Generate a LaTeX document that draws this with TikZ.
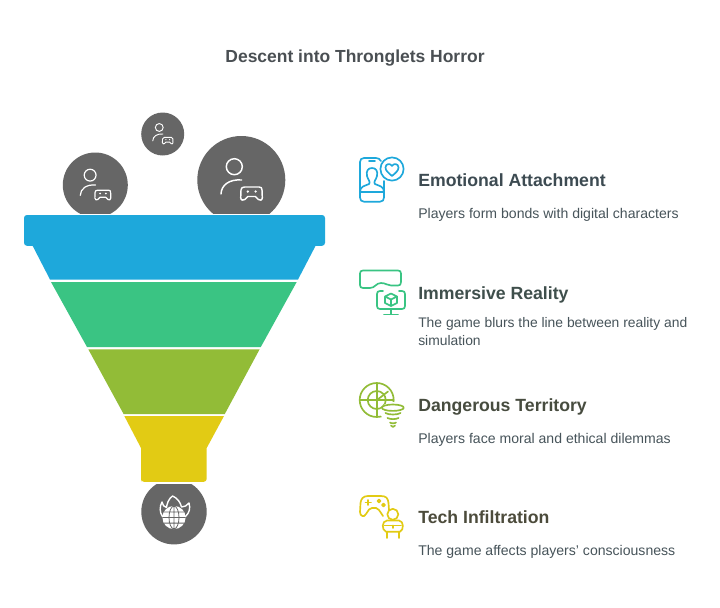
\documentclass[tikz,border=0pt]{standalone}
\usepackage{fontspec}
\setmainfont{Liberation Sans}
\usetikzlibrary{calc}
\definecolor{cblue}{HTML}{1EA8DB}
\definecolor{cgreen}{HTML}{3AC483}
\definecolor{colive}{HTML}{92BC37}
\definecolor{cyellow}{HTML}{E2CB14}
\definecolor{cdisc}{HTML}{666666}
\definecolor{ctitle}{HTML}{4A4F53}
\definecolor{cbody}{HTML}{47545A}
\definecolor{hblue}{HTML}{3D4B52}
\definecolor{hgreen}{HTML}{3F4F4C}
\definecolor{holive}{HTML}{474C3F}
\definecolor{hyellow}{HTML}{4C4B3B}
\tikzset{
  x=0.75pt,y=-0.75pt,
  titletext/.style={font=\fontsize{13.1pt}{16pt}\selectfont\bfseries,text=ctitle,inner sep=0pt},
  headtext/.style={font=\fontsize{13.25pt}{16pt}\selectfont\bfseries,anchor=base west,inner sep=0pt},
  bodytext/.style={font=\fontsize{10.55pt}{13pt}\selectfont,text=cbody,anchor=base west,inner sep=0pt,align=left},
  disc/.style={fill=cdisc},
  glyph/.style={draw=white,line width=0.75pt,line cap=round,line join=round,fill=none},
  ico/.style={line width=1.25pt,line cap=round,line join=round,fill=none},
}
\newcommand{\gamer}[4]{% x y scale lw
  \begin{scope}[shift={(#1,#2)},x=#3*0.75pt,y=-#3*0.75pt]
    \draw[glyph,line width=#4] (-7,-13.3) circle [radius=8];
    \draw[glyph,line width=#4] (-20.3,14) .. controls (-20,5) and (-12,-1) .. (0.4,0);
    \draw[glyph,line width=#4] (3.2,7) -- (17.8,7) .. controls (20,7) and (20.6,8) .. (20.7,10) -- (21,17.5) .. controls (21,20.5) and (18.5,20.8) .. (17,19.5) -- (14,16.5) -- (6.5,16.5) -- (3.5,19.5) .. controls (2,20.8) and (-0.6,20.5) .. (-0.6,17.5) -- (-0.3,10) .. controls (-0.2,8) and (1,7) .. (3.2,7) -- cycle;
    \fill[white] (6.5,11.5) circle [radius=1.3] (14.3,11.5) circle [radius=1.3];
  \end{scope}}
\begin{document}
\begin{tikzpicture}
\useasboundingbox (0,0) rectangle (720,607);
\fill[white] (0,0) rectangle (720,607);
\node[titletext] (title) at (355,58) {Descent into Thronglets Horror};

% discs
\fill[disc] (162.7,134) circle [radius=21.5];
\begin{scope}
  \clip (0,0) rectangle (720,213);
  \fill[disc] (95.3,185) circle [radius=32.5];
  \fill[disc] (241.3,180) circle [radius=44];
\end{scope}
\begin{scope}
  \clip (0,484) rectangle (720,607);
  \fill[disc] (174,511.7) circle [radius=32.7];
\end{scope}
\gamer{162.7}{134}{0.49}{0.7pt}
\gamer{95.3}{185}{0.74}{0.9pt}
\gamer{241.3}{180}{1}{1.1pt}

% funnel
\fill[cblue,rounded corners=2.2pt] (24,215) -- (325,215) -- (325,245.8) -- (24,245.8) -- cycle;
\fill[cblue] (31.7,244) -- (316.5,244) -- (298,279.5) -- (50,279.5) -- cycle;
\fill[cgreen] (51,282) -- (296.7,282) -- (260.8,347) -- (87,347) -- cycle;
\fill[colive] (88.3,349.3) -- (259.6,349.3) -- (224.8,414) -- (123.6,414) -- cycle;
\fill[cyellow] (124.3,416) -- (224,416) -- (206.7,448) -- (206.7,479) [rounded corners=2.2pt] -- (206.7,481.8) -- (141,481.8) -- (141,479) [sharp corners] -- (141,448) -- cycle;

% globe flame
\begin{scope}[shift={(174,517.5)}]
  \draw[glyph,line width=1.05pt] (-11.5,-1) .. controls (-14.5,-5) and (-14.5,-11) .. (-12,-15.5) .. controls (-11.5,-12.5) and (-10,-10.5) .. (-7.5,-10) .. controls (-7,-14) and (-5.5,-18.5) .. (-1.5,-21.5) .. controls (3.5,-19.5) and (6.5,-15) .. (7.5,-10.5) .. controls (10.5,-10.5) and (13,-12) .. (15,-14.5) .. controls (16.5,-9) and (15.5,-5) .. (11.5,-1);
  \fill[white] (0,0) circle [radius=11.6];
  \draw[cdisc,line width=0.6pt] (0,0) ellipse [x radius=5,y radius=11.4] (-11.6,0) -- (11.6,0) (0,-11.4) -- (0,11.4) (-10,-5.6) -- (10,-5.6) (-10,5.6) -- (10,5.6);
\end{scope}

% Emotional icon
\begin{scope}[cblue]
  \draw[ico] (381,161) .. controls (380,159) and (378,158) .. (376,158) -- (364,158) .. controls (361.5,158) and (360,159.5) .. (360,162) -- (360,197.5) .. controls (360,200) and (361.5,201.7) .. (364,201.7) -- (380,201.7) .. controls (382.5,201.7) and (384,200) .. (384,197.5) -- (384,181);
  \draw[ico] (369,160.7) -- (375,160.7);
  \draw[ico] (360,192) -- (384,192);
  \draw[ico] (360,192) .. controls (360,186) and (365,186) .. (369,184) .. controls (371,182) and (368,180) .. (367,176) .. controls (366,171) and (368,168) .. (372,168) .. controls (376,168) and (378,171) .. (377,176) .. controls (376,180) and (373,182) .. (375,184) .. controls (379,186) and (384,186) .. (384,192);
  \draw[ico] (392,169) circle [radius=11.6];
  \draw[ico] (392,176) .. controls (388,172.5) and (385.5,170.5) .. (385.5,167.5) .. controls (385.5,163.5) and (390.5,163) .. (392,166) .. controls (393.5,163) and (398.5,163.5) .. (398.5,167.5) .. controls (398.5,170.5) and (396,172.5) .. (392,176) -- cycle;
\end{scope}
% Immersive icon
\begin{scope}[cgreen]
  \draw[ico] (363,270.5) -- (398,270.5) .. controls (400,270.5) and (401,271.5) .. (401,273.5) -- (401,282) .. controls (401,284.5) and (400,285.5) .. (398,285.5) -- (391,285.5) .. controls (387,285.5) and (386,283) .. (381,283) .. controls (376,283) and (375,288) .. (370,288) -- (363,288) .. controls (361,288) and (360,287) .. (360,285) -- (360,273.5) .. controls (360,271.5) and (361,270.5) .. (363,270.5) -- cycle;
  \draw[ico] (383,291) -- (380,291) .. controls (378,291) and (377,292) .. (377,294) -- (377,306) .. controls (377,308) and (378,309) .. (380,309) -- (402,309) .. controls (404,309) and (405,308) .. (405,306) -- (405,294) .. controls (405,292) and (404,291) .. (402,291) -- (399,291);
  \draw[ico] (391,309) -- (391,314) (384,314.5) -- (398,314.5);
  \draw[ico] (391,293.5) -- (397,296.5) -- (397,303) -- (391,306) -- (385,303) -- (385,296.5) -- cycle (385,296.5) -- (391,299.5) -- (397,296.5) (391,299.5) -- (391,306);
\end{scope}
% Dangerous icon
\begin{scope}[colive]
  \draw[ico] (376.7,400) circle [radius=17];
  \draw[ico] (376.7,400) circle [radius=9];
  \draw[ico] (360,400) -- (393,400) (376.7,383) -- (376.7,417);
  \draw[ico] (377,400) -- (388,391.5);
  \fill[white] (393,412) ellipse [x radius=13,y radius=10];
  \draw[ico] (392.8,407.7) ellipse [x radius=11,y radius=3.2];
  \draw[ico] (385.5,413) .. controls (388,415) and (398,415) .. (400.5,413);
  \draw[ico] (387.5,418) .. controls (390,419.5) and (396,419.5) .. (398.5,418);
  \draw[ico] (390,422.5) .. controls (391,423.5) and (395,423.5) .. (396,422.5);
  \draw[ico] (391,425.5) -- (393,427) -- (395,425.5);
\end{scope}
% Tech icon
\begin{scope}[cyellow]
  \draw[ico] (389,510) -- (388.5,503) .. controls (388,498) and (386,496) .. (381,496) -- (368,496) .. controls (363,496) and (361,499) .. (360.5,503) -- (360,512) .. controls (360,516) and (364,518) .. (366,514) -- (369,509.5) .. controls (370,508) and (371,508) .. (372,508) -- (376,508) .. controls (378,508) and (379,510) .. (383,516);
  \draw[ico] (365.5,502.5) -- (371,502.5) (368.2,500) -- (368.2,505);
  \draw[ico] (379,501) circle [radius=1.5] (383.5,505) circle [radius=1.5];
  \draw[ico] (392.8,514.3) circle [radius=5.5];
  \draw[ico] (386,531.7) .. controls (381.5,530) and (381.5,521) .. (387,520.5) -- (399,520.5) .. controls (404,521) and (404,530) .. (400,531.7) -- cycle;
  \draw[ico] (384.5,525.5) -- (401,525.5) (392.8,525.5) -- (392.8,528);
  \draw[ico] (387,531.7) -- (387,538) (399,531.7) -- (399,538);
\end{scope}

% texts
\node[headtext,text=hblue] (h1) at (418,186) {Emotional Attachment};
\node[bodytext] (b1) at (418,218) {Players form bonds with digital characters};
\node[headtext,text=hgreen] (h2) at (418,299) {Immersive Reality};
\node[bodytext,anchor=north west,font=\fontsize{10.4pt}{13pt}\selectfont] (b2) at (418,317.5) {The game blurs the line between reality and\\simulation};
\node[headtext,text=holive] (h3) at (418,411) {Dangerous Territory};
\node[bodytext] (b3) at (418,443) {Players face moral and ethical dilemmas};
\node[headtext,text=hyellow] (h4) at (418,523) {Tech Infiltration};
\node[bodytext] (b4) at (418,555) {The game affects players' consciousness};
\end{tikzpicture}
\end{document}
